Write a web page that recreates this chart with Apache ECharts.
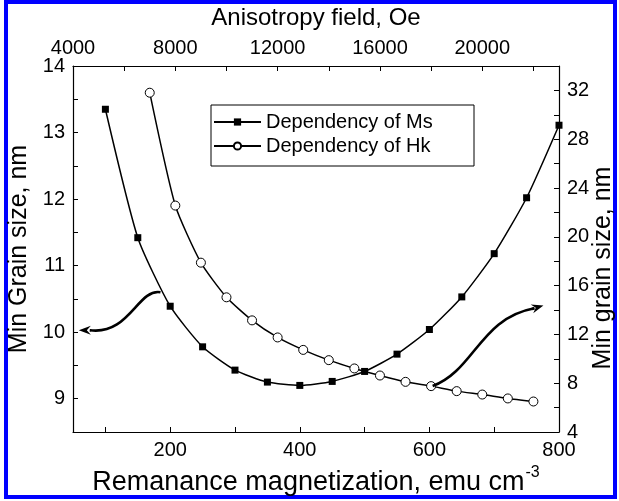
<!DOCTYPE html>
<html>
<head>
<meta charset="utf-8">
<script src="https://cdn.jsdelivr.net/npm/echarts@6/dist/echarts.min.js"></script>
<style>
html, body { margin: 0; padding: 0; background: #fff; }
#chart { width: 619px; height: 501px; }
</style>
</head>
<body>
<div id="chart"></div>
<script>
// Ms dependency: remanance magnetization (emu/cm3) -> min grain size (nm), left axis
var msX = [100, 150, 200, 250, 300, 350, 400, 450, 500, 550, 600, 650, 700, 750, 800];
var msY = [13.35, 11.42, 10.39, 9.78, 9.43, 9.25, 9.20, 9.26, 9.41, 9.67, 10.04, 10.53, 11.18, 12.02, 13.11];

// Hk dependency: anisotropy field (Oe) -> min grain size (nm), right axis
var hkX = [7000, 8000, 9000, 10000, 11000, 12000, 13000, 14000, 15000, 16000, 17000, 18000, 19000, 20000, 21000, 22000];
var hkY = [31.81, 22.56, 17.88, 15.04, 13.15, 11.75, 10.73, 9.89, 9.21, 8.63, 8.11, 7.76, 7.35, 7.07, 6.75, 6.50];

// tick labels and tick marks
var bottomLabels = [200, 400, 600, 800];
var bottomTicks = [100, 200, 300, 400, 500, 600, 700, 800];
var topLabels = [4000, 8000, 12000, 16000, 20000];
var topTicks = [4000, 6000, 8000, 10000, 12000, 14000, 16000, 18000, 20000, 22000];
var leftLabels = [9, 10, 11, 12, 13, 14];
var leftTicks = [9, 9.5, 10, 10.5, 11, 11.5, 12, 12.5, 13, 13.5];
var rightLabels = [4, 8, 12, 16, 20, 24, 28, 32];
var rightTicks = [6, 8, 10, 12, 14, 16, 18, 20, 22, 24, 26, 28, 30, 32];

// curved arrows (bottom/left data coords): start, cp1, cp2, end, tip
var arrowMs = [[185, 10.60], [150, 10.66], [137, 9.95], [76, 10.03], [59, 10.03]];
var arrowHk = [[605, 9.19], [670, 9.43], [678, 10.21], [762, 10.36], [776, 10.40]];

var FONT = 'Liberation Sans';

function zip(a, b) {
  return a.map(function (v, i) { return [v, b[i]]; });
}

function axisBase(min, max, labels, ticks) {
  return {
    type: 'value',
    min: min,
    max: max,
    axisLine: { onZero: false, lineStyle: { color: '#000', width: 1.2 } },
    axisTick: { inside: true, length: 5, customValues: ticks, lineStyle: { color: '#000', width: 1 } },
    axisLabel: {
      customValues: labels, fontSize: 20, color: '#000', fontFamily: FONT, margin: 8,
      formatter: function (v) { return String(v); }
    },
    splitLine: { show: false },
    nameTextStyle: { fontSize: 26, color: '#000', fontFamily: FONT }
  };
}

var xBottom = axisBase(50, 800, bottomLabels, bottomTicks);
xBottom.position = 'bottom';
xBottom.name = '{a|Remanance magnetization, emu cm}{s|-3}';
xBottom.nameLocation = 'middle';
xBottom.nameGap = 31;
xBottom.nameTextStyle.rich = {
  a: { fontSize: 27, color: '#000', fontFamily: FONT },
  s: { fontSize: 16, color: '#000', fontFamily: FONT, padding: [0, 0, 20, 1] }
};

var xTop = axisBase(4000, 23000, topLabels, topTicks);
xTop.position = 'top';
xTop.name = 'Anisotropy field, Oe';
xTop.nameLocation = 'middle';
xTop.nameGap = 36;
xTop.nameTextStyle.fontSize = 24;

var yLeft = axisBase(8.5, 14, leftLabels, leftTicks);
yLeft.position = 'left';
yLeft.name = 'Min Grain size, nm';
yLeft.nameLocation = 'middle';
yLeft.nameGap = 38;
yLeft.nameTextStyle.fontSize = 25;

// right axis title is drawn as a graphic text (sits lower than the axis middle)
var yRight = axisBase(4, 34, rightLabels, rightTicks);
yRight.position = 'right';

var chart = echarts.init(document.getElementById('chart'));

var option = {
  animation: false,
  backgroundColor: '#fff',
  grid: { left: 73, right: 60, top: 66, bottom: 69, outerBoundsMode: 'none' },
  legend: {
    orient: 'vertical',
    left: 213,
    top: 112,
    itemWidth: 47,
    itemHeight: 9,
    itemGap: 4,
    padding: 0,
    textStyle: { fontSize: 20, color: '#000', fontFamily: FONT },
    data: ['Dependency of Ms', 'Dependency of Hk']
  },
  xAxis: [xBottom, xTop],
  yAxis: [yLeft, yRight],
  series: [
    {
      name: 'Dependency of Ms',
      type: 'line',
      xAxisIndex: 0,
      yAxisIndex: 0,
      data: zip(msX, msY),
      smooth: 0.2,
      symbol: 'rect',
      symbolSize: 7,
      itemStyle: { color: '#000' },
      lineStyle: { color: '#000', width: 1.5 }
    },
    {
      name: 'Dependency of Hk',
      type: 'line',
      xAxisIndex: 1,
      yAxisIndex: 1,
      data: zip(hkX, hkY),
      smooth: 0.2,
      symbol: 'circle',
      symbolSize: 9,
      itemStyle: { color: '#fff', borderColor: '#000', borderWidth: 1 },
      lineStyle: { color: '#000', width: 1.5 }
    }
  ]
};

chart.setOption(option);

// arrows built from data coordinates
function px(p) {
  return chart.convertToPixel({ xAxisIndex: 0, yAxisIndex: 0 }, p);
}
function arrow(id, pts) {
  var s = px(pts[0]), c1 = px(pts[1]), c2 = px(pts[2]), e = px(pts[3]), t = px(pts[4]);
  var dx = t[0] - e[0], dy = t[1] - e[1];
  var len = Math.sqrt(dx * dx + dy * dy);
  var ux = dx / len, uy = dy / len;
  var bx = t[0] - ux * 12, by = t[1] - uy * 12;
  return [
    {
      id: id + 'c',
      type: 'bezierCurve',
      shape: { x1: s[0], y1: s[1], cpx1: c1[0], cpy1: c1[1], cpx2: c2[0], cpy2: c2[1], x2: e[0], y2: e[1] },
      style: { stroke: '#000', lineWidth: 2.6, fill: null },
      z: 10
    },
    {
      id: id + 'l',
      type: 'line',
      shape: { x1: e[0], y1: e[1], x2: bx, y2: by },
      style: { stroke: '#000', lineWidth: 2.6 },
      z: 10
    },
    {
      id: id + 'h',
      type: 'polygon',
      shape: { points: [t, [bx - uy * 4.5, by + ux * 4.5], [t[0] - ux * 8, t[1] - uy * 8], [bx + uy * 4.5, by - ux * 4.5]] },
      style: { fill: '#000' },
      z: 10
    }
  ];
}

chart.setOption({
  graphic: [
    {
      id: 'frame',
      type: 'rect',
      shape: { x: 6, y: 2, width: 609, height: 495 },
      style: { stroke: '#0000ff', lineWidth: 4, fill: null },
      silent: true
    },
    {
      id: 'legendBox',
      type: 'rect',
      shape: { x: 211, y: 105, width: 263, height: 61 },
      style: { stroke: '#000', lineWidth: 1, fill: null },
      silent: true
    },
    {
      id: 'rightTitle',
      type: 'text',
      x: 603,
      y: 268,
      rotation: Math.PI / 2,
      style: {
        text: 'Min grain size, nm',
        font: '25px "Liberation Sans"',
        fill: '#000',
        align: 'center',
        verticalAlign: 'middle'
      },
      silent: true
    }
  ].concat(arrow('am', arrowMs), arrow('ah', arrowHk))
});
</script>
</body>
</html>
